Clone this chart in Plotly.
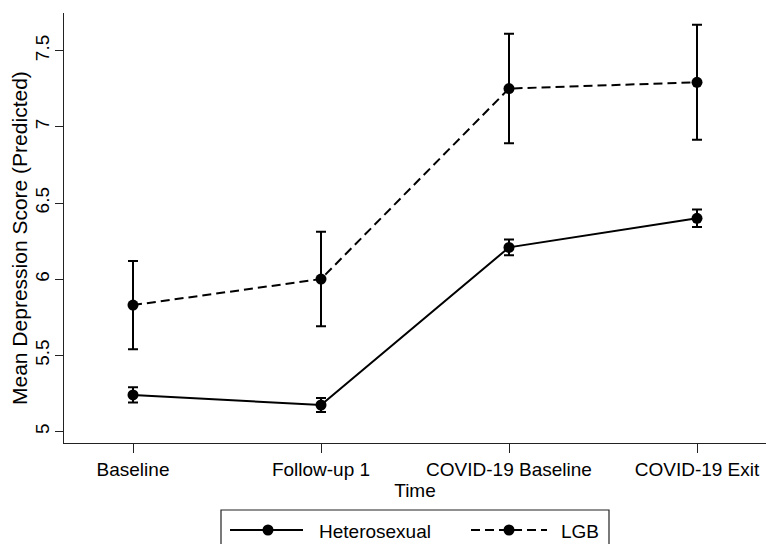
import plotly.graph_objects as go

# ---- data ----
time_points = ["Baseline", "Follow-up 1", "COVID-19 Baseline", "COVID-19 Exit"]
hetero_mean = [5.240, 5.174, 6.209, 6.400]
hetero_err = [0.050, 0.046, 0.052, 0.058]
lgb_mean = [5.830, 6.001, 7.252, 7.293]
lgb_err = [0.290, 0.310, 0.360, 0.378]
y_ticks = [5, 5.5, 6, 6.5, 7, 7.5]
y_tick_text = ["5", "5.5", "6", "6.5", "7", "7.5"]
legend_names = ["Heterosexual", "LGB"]
y_title = "Mean Depression Score (Predicted)"

FONT = "Liberation Sans, Arial, Helvetica, sans-serif"
FS = 19
W, H = 766, 544
L, R, T, B = 64, 0, 13, 101

fig = go.Figure()
fig.add_trace(go.Scatter(
    x=time_points, y=hetero_mean, name=legend_names[0], mode="lines+markers",
    line=dict(color="black", width=2),
    marker=dict(color="black", size=11),
    error_y=dict(type="data", array=hetero_err, color="black", thickness=2, width=5),
    showlegend=False, cliponaxis=False))
fig.add_trace(go.Scatter(
    x=time_points, y=lgb_mean, name=legend_names[1], mode="lines+markers",
    line=dict(color="black", width=2, dash="9px,5px"),
    marker=dict(color="black", size=11),
    error_y=dict(type="data", array=lgb_err, color="black", thickness=2, width=5),
    showlegend=False, cliponaxis=False))

# ---- custom legend (paper coordinates from pixel positions) ----
pw = W - L - R
ph = H - T - B
def px(x):
    return (x - L) / pw
def py(y):
    return (H - B - y) / ph

shapes = []
shapes.append(dict(type="rect", xref="paper", yref="paper",
                   x0=px(221), x1=px(609), y0=py(575), y1=py(510),
                   line=dict(color="#222", width=1.2), fillcolor="rgba(0,0,0,0)"))
row_y = py(530)
shapes.append(dict(type="line", xref="paper", yref="paper",
                   x0=px(230), x1=px(303), y0=row_y, y1=row_y,
                   line=dict(color="black", width=2)))
shapes.append(dict(type="line", xref="paper", yref="paper",
                   x0=px(471), x1=px(547), y0=row_y, y1=row_y,
                   line=dict(color="black", width=2, dash="9px,5px")))
for mx in (268, 509):
    shapes.append(dict(type="circle", xref="paper", yref="paper",
                       xsizemode="pixel", ysizemode="pixel",
                       xanchor=px(mx), yanchor=row_y,
                       x0=-5.5, x1=5.5, y0=-5.5, y1=5.5,
                       fillcolor="black", line=dict(color="black", width=0)))

text_y = py(531)
annotations = [
    dict(text=legend_names[0], xref="paper", yref="paper", x=px(317), y=text_y,
         xanchor="left", yanchor="middle", showarrow=False,
         font=dict(family=FONT, size=FS, color="black")),
    dict(text=legend_names[1], xref="paper", yref="paper", x=px(559), y=text_y,
         xanchor="left", yanchor="middle", showarrow=False,
         font=dict(family=FONT, size=FS, color="black")),
    dict(text=y_title, xref="paper", yref="paper", x=px(19), y=py(238),
         xanchor="center", yanchor="middle", textangle=-90, showarrow=False,
         font=dict(family=FONT, size=21, color="black")),
]

fig.update_layout(
    width=W, height=H,
    margin=dict(l=L, r=R, t=T, b=B, pad=0),
    paper_bgcolor="white", plot_bgcolor="white",
    font=dict(family=FONT, size=FS, color="black"),
    shapes=shapes, annotations=annotations,
    showlegend=False,
)
fig.update_xaxes(
    type="category", range=[-0.367, 3.367],
    showline=True, linecolor="#222", linewidth=1.2,
    ticks="outside", ticklen=9, tickwidth=1.2, tickcolor="#222",
    showgrid=False, zeroline=False,
    title=dict(text="Time", standoff=4, font=dict(size=FS)),
    automargin=False,
)
fig.update_yaxes(
    range=[4.9245, 7.748],
    tickvals=y_ticks, ticktext=y_tick_text, tickangle=-90,
    ticklabelstandoff=-2,
    showline=True, linecolor="#222", linewidth=1.2,
    ticks="outside", ticklen=8, tickwidth=1.2, tickcolor="#222",
    showgrid=False, zeroline=False,
    automargin=False,
)

fig.write_html(
    "out.html",
    config={"displayModeBar": False},
    post_script="document.body.style.margin='0';document.body.style.overflow='hidden';",
)
